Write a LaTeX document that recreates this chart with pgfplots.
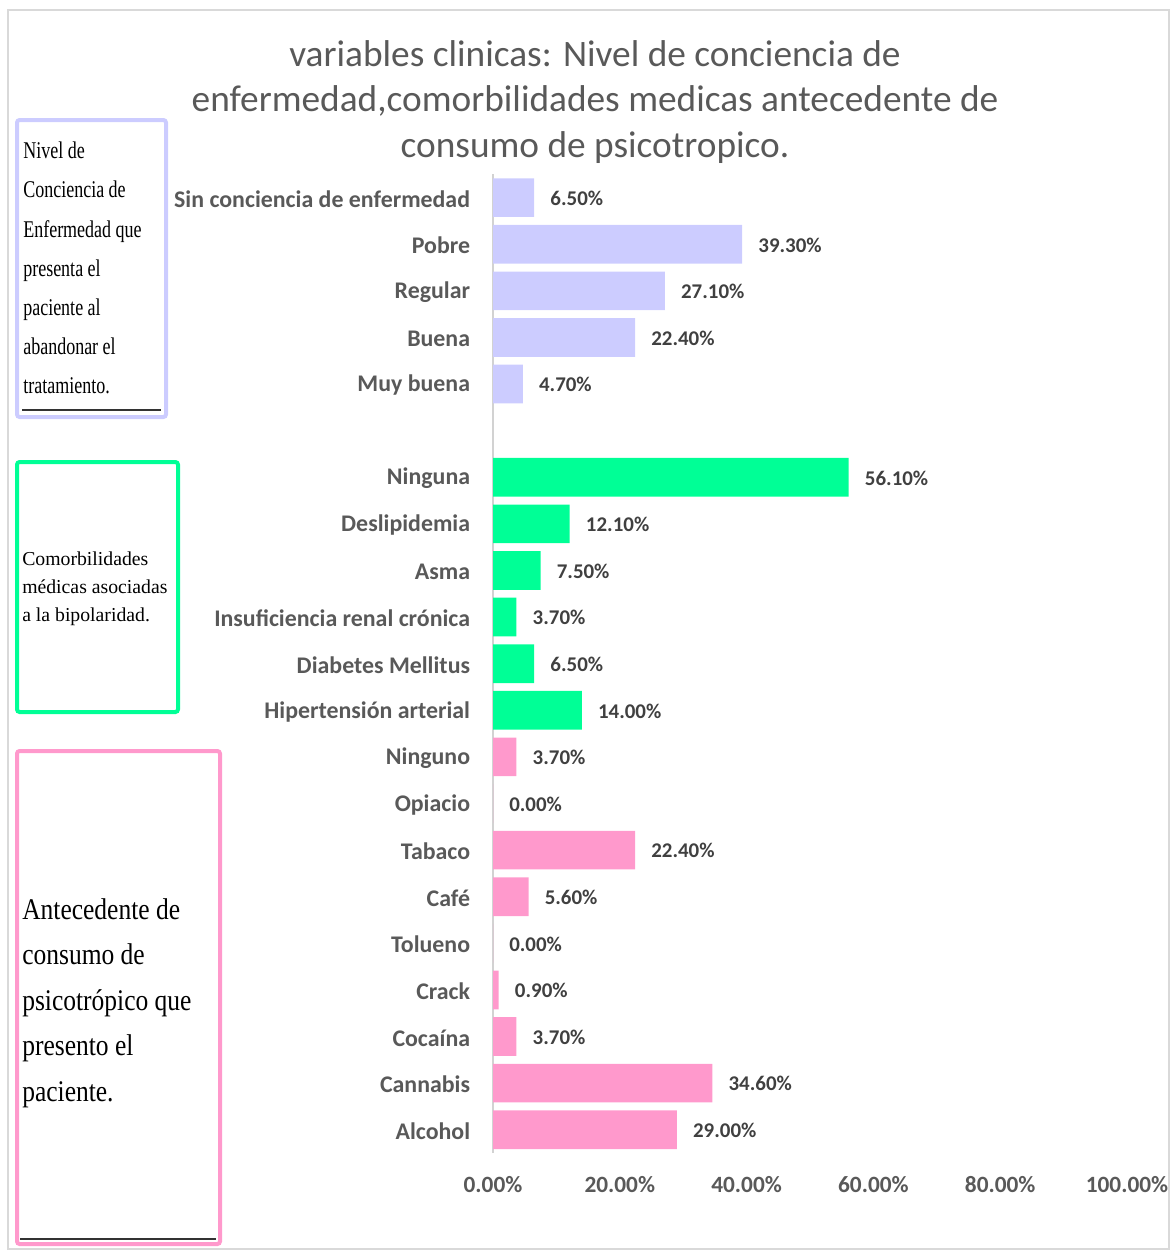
\documentclass[border=0pt]{standalone}
\usepackage{pgfplots}
\pgfplotsset{compat=1.18}
\usepackage{fontspec}
\setmainfont{Carlito}
\newfontfamily\boxfont{Liberation Serif}
\newfontfamily\boxfontc{Liberation Serif}[FakeStretch=0.75]
\newfontfamily\boxfontd{Liberation Serif}[FakeStretch=0.85]
\definecolor{lav}{RGB}{204,204,255}
\definecolor{grn}{RGB}{0,255,150}
\definecolor{pnk}{RGB}{255,153,204}
\definecolor{txt}{RGB}{89,89,89}
\definecolor{dtx}{RGB}{64,64,64}
\begin{document}
\begin{tikzpicture}
\begin{scope}[x=0.75pt,y=-0.75pt]
  % frame of the chart area
  \draw[color=gray!30,line width=1pt] (8,10) rectangle (1169,1249);
  % title
  \node[text=txt,font=\fontsize{28}{34.2}\selectfont,align=center] at (595,102)
    {variables clinicas: Nivel de conciencia de\\
     enfermedad,comorbilidades medicas antecedente de\\
     consumo de psicotropico.};
  % group boxes
  \draw[lav,line width=3pt,rounded corners=2pt] (17,120) rectangle (166,417);
  \draw[black!80,line width=1pt] (22,410) -- (161,410);
  \node[anchor=north west,inner sep=0pt,align=left,text=black,
        font=\boxfontc\fontsize{18}{29.3}\selectfont] at (23,142)
    {Nivel de\\Conciencia de\\Enfermedad que\\presenta el\\paciente al\\abandonar el\\tratamiento.};
  \draw[grn,line width=3pt,rounded corners=2pt] (17,462) rectangle (178,712);
  \node[anchor=west,inner sep=0pt,align=left,text=black,
        font=\boxfont\fontsize{14.8}{21}\selectfont] at (22,589)
    {Comorbilidades\\médicas asociadas\\a la bipolaridad.};
  \draw[pnk,line width=3pt,rounded corners=2pt] (17,751) rectangle (220,1244);
  \draw[black!80,line width=1pt] (20,1239) -- (216,1239);
  \node[anchor=west,inner sep=0pt,align=left,text=black,
        font=\boxfontd\fontsize{22.5}{34.2}\selectfont] at (22,1003)
    {Antecedente de\\consumo de\\psicotrópico que\\presento el\\paciente.};
\end{scope}
\begin{axis}[
    at={(369.75pt,-864.75pt)}, anchor=south west,
    scale only axis, width=475.5pt, height=734pt,
    xmin=0, xmax=100, ymin=-0.5, ymax=20.5,
    y dir=reverse,
    xbar, bar width=0.83, bar shift=0pt,
    axis lines*=left,
    x axis line style={draw=none},
    y axis line style={draw=gray!35,line width=1pt},
    major tick length=0pt,
    xtick={0,20,...,100},
    ytick={0,...,20},
    yticklabels={Sin conciencia de enfermedad,Pobre,Regular,Buena,Muy buena,,
      Ninguna,Deslipidemia,Asma,Insuficiencia renal crónica,Diabetes Mellitus,Hipertensión arterial,
      Ninguno,Opiacio,Tabaco,Café,Tolueno,Crack,Cocaína,Cannabis,Alcohol},
    /pgf/number format/assume math mode=true,
    xticklabel={\pgfmathprintnumber[fixed,fixed zerofill,precision=2]{\tick}\%},
    ticklabel style={text=txt,inner sep=0pt},
    yticklabel style={xshift=-17pt,yshift=-1pt,font=\bfseries\fontsize{17.9}{21}\selectfont},
    xticklabel style={yshift=-17pt,font=\bfseries\fontsize{17.5}{21}\selectfont},
    nodes near coords={\pgfmathprintnumber[fixed,fixed zerofill,precision=2]{\pgfplotspointmeta}\%},
    every node near coord/.append style={text=dtx,font=\bfseries\fontsize{15.7}{18}\selectfont,
      anchor=west,inner sep=0pt,xshift=12pt,yshift=-0.5pt},
    clip=false,
  ]
  \addplot[draw=none,fill=lav] coordinates {(6.5,0) (39.3,1) (27.1,2) (22.4,3) (4.7,4)};
  \addplot[draw=none,fill=grn] coordinates {(56.1,6) (12.1,7) (7.5,8) (3.7,9) (6.5,10) (14.0,11)};
  \addplot[draw=none,fill=pnk] coordinates {(3.7,12) (0,13) (22.4,14) (5.6,15) (0,16) (0.9,17) (3.7,18) (34.6,19) (29.0,20)};
\end{axis}
\begin{scope}[x=0.75pt,y=-0.75pt]
  \pgfresetboundingbox
  \path[use as bounding box] (0,0) rectangle (1170,1250);
\end{scope}
\end{tikzpicture}
\end{document}
